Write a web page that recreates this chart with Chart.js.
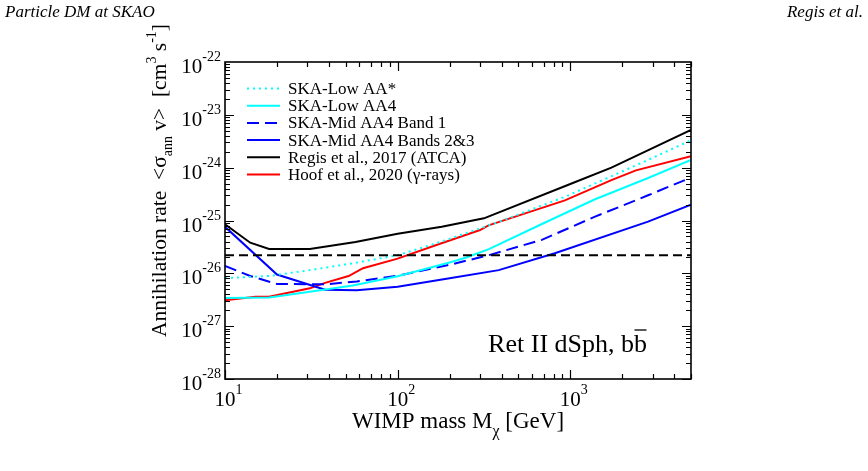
<!DOCTYPE html>
<html><head><meta charset="utf-8">
<script src="https://cdn.jsdelivr.net/npm/chart.js@4.4.0/dist/chart.umd.min.js"></script>
<style>html,body{margin:0;padding:0;background:#fff;overflow:hidden}#wrap{width:868px;height:471px}</style>
</head><body><div id="wrap"><canvas id="c" width="868" height="471"></canvas></div>
<script>
const SERIF = '"Liberation Serif", "DejaVu Serif", serif';

// ---- data (WIMP mass in GeV, <sigma v> in cm^3 s^-1) ----
const massLowAAstar = [10, 18, 31, 55, 100, 145, 200, 367, 930, 2820, 5000];
const sigmaLowAAstar = [8.1e-27, 8.9e-27, 1.15e-26, 1.55e-26, 2.2e-26, 3.2e-26, 4.5e-26, 8.9e-26, 2.8e-25, 1.4e-24, 3.3e-24];

const massLowAA4 = [10, 18, 31, 55, 100, 200, 250, 340, 680, 1380, 2800, 5000];
const sigmaLowAA4 = [3.4e-27, 3.5e-27, 4.5e-27, 5.9e-27, 8.8e-27, 1.6e-26, 2.0e-26, 2.9e-26, 8.5e-26, 2.5e-25, 6.3e-25, 1.4e-24];

const massMidB1 = [10, 14, 20, 38, 58, 100, 200, 336, 684, 1380, 2820, 5000];
const sigmaMidB1 = [1.38e-26, 8.9e-27, 6.3e-27, 6.2e-27, 7.0e-27, 9.0e-27, 1.45e-26, 2.2e-26, 4.3e-26, 1.17e-25, 3.0e-25, 6.5e-25];

const massMidB23 = [10, 20, 38, 58, 100, 200, 385, 813, 2820, 5000];
const sigmaMidB23 = [7.6e-26, 9.5e-27, 4.9e-27, 4.8e-27, 5.6e-27, 8.1e-27, 1.15e-26, 2.4e-26, 9.5e-26, 2.0e-25];

const massRegis = [10, 14, 18, 31, 57, 100, 180, 316, 1000, 1730, 5000];
const sigmaRegis = [8.5e-26, 3.8e-26, 2.9e-26, 2.9e-26, 3.9e-26, 5.6e-26, 7.6e-26, 1.1e-25, 4.9e-25, 1.0e-24, 5.2e-24];

const massHoof = [10, 15, 18, 31, 38, 52, 63, 100, 166, 300, 336, 930, 1730, 2400, 5000];
const sigmaHoof = [3.1e-27, 3.6e-27, 3.6e-27, 5.2e-27, 6.6e-27, 8.9e-27, 1.25e-26, 1.9e-26, 3.4e-26, 6.6e-26, 8.1e-26, 2.4e-25, 5.8e-25, 8.9e-25, 1.65e-24];

const massRelic = [10, 5000];
const sigmaRelic = [2.2e-26, 2.2e-26];

const xTickExps = [1, 2, 3];
const yTickExps = [-22, -23, -24, -25, -26, -27, -28];
const legendLabels = ['SKA-Low AA*', 'SKA-Low AA4', 'SKA-Mid AA4 Band 1', 'SKA-Mid AA4 Bands 2&3', 'Regis et al., 2017 (ATCA)', 'Hoof et al., 2020 (\u03b3-rays)'];

function zip(xs, ys) { return xs.map((x, i) => ({x: x, y: ys[i]})); }

const styles = [
  {color: '#00ffff', dash: [2, 4]},
  {color: '#00ffff', dash: []},
  {color: '#0000ff', dash: [12, 6]},
  {color: '#0000ff', dash: []},
  {color: '#000000', dash: []},
  {color: '#ff0000', dash: []}
];
const seriesData = [
  zip(massLowAAstar, sigmaLowAAstar),
  zip(massLowAA4, sigmaLowAA4),
  zip(massMidB1, sigmaMidB1),
  zip(massMidB23, sigmaMidB23),
  zip(massRegis, sigmaRegis),
  zip(massHoof, sigmaHoof)
];

const datasets = seriesData.map((d, i) => ({
  label: legendLabels[i], data: d, borderColor: styles[i].color, borderDash: styles[i].dash,
  borderWidth: 2, pointRadius: 0, fill: false, tension: 0, borderCapStyle: 'butt'
}));
datasets.unshift({label: 'relic', data: zip(massRelic, sigmaRelic), borderColor: '#000', borderDash: [9, 5],
  borderWidth: 2, pointRadius: 0, fill: false, tension: 0});

function rich(ctx, x, y, segs, align) {
  let w = 0;
  segs.forEach(s => { ctx.font = (s.style || '') + ' ' + s.size + 'px ' + SERIF; s.w = ctx.measureText(s.t).width; w += s.w; });
  let cx = align === 'right' ? x - w : (align === 'center' ? x - w / 2 : x);
  ctx.textAlign = 'left';
  segs.forEach(s => { ctx.font = (s.style || '') + ' ' + s.size + 'px ' + SERIF; ctx.fillText(s.t, cx, y + (s.dy || 0)); cx += s.w; });
  return w;
}

const decor = {
  id: 'decor',
  afterDraw(chart) {
    const ctx = chart.ctx, a = chart.chartArea, xs = chart.scales.x, ys = chart.scales.y;
    ctx.save();
    ctx.fillStyle = '#000'; ctx.strokeStyle = '#000';
    ctx.textBaseline = 'alphabetic';
    // frame
    ctx.lineWidth = 1.6;
    ctx.strokeRect(a.left, a.top, a.right - a.left, a.bottom - a.top);
    ctx.lineWidth = 1.2;
    // x ticks
    for (let d = 1; d <= 3; d++) {
      for (let k = 1; k <= 9; k++) {
        const v = k * Math.pow(10, d);
        if (v > 5000) break;
        const px = Math.round(xs.getPixelForValue(v)) + 0.5;
        const L = k === 1 ? 9 : 5;
        ctx.beginPath();
        ctx.moveTo(px, a.bottom); ctx.lineTo(px, a.bottom - L);
        ctx.moveTo(px, a.top); ctx.lineTo(px, a.top + L);
        ctx.stroke();
      }
    }
    // y ticks
    for (let e = -28; e <= -23; e++) {
      for (let k = 1; k <= 9; k++) {
        const v = k * Math.pow(10, e);
        const py = Math.round(ys.getPixelForValue(v)) + 0.5;
        const L = k === 1 ? 9 : 5;
        ctx.beginPath();
        ctx.moveTo(a.left, py); ctx.lineTo(a.left + L, py);
        ctx.moveTo(a.right, py); ctx.lineTo(a.right - L, py);
        ctx.stroke();
      }
    }
    // y tick labels
    yTickExps.forEach(e => {
      const py = ys.getPixelForValue(Math.pow(10, e));
      rich(ctx, a.left - 4, py + 11, [{t: '10', size: 21}, {t: String(e), size: 14, dy: -12}], 'right');
    });
    // x tick labels
    xTickExps.forEach(e => {
      const px = xs.getPixelForValue(Math.pow(10, e));
      ctx.font = '21px ' + SERIF;
      const w10 = ctx.measureText('10').width;
      rich(ctx, px - w10 / 2, a.bottom + 27, [{t: '10', size: 21}, {t: String(e), size: 14, dy: -12}], 'left');
    });
    // x title
    rich(ctx, (a.left + a.right) / 2, a.bottom + 49, [
      {t: 'WIMP mass M', size: 23}, {t: '\u03c7', size: 16, dy: 8}, {t: ' [GeV]', size: 23}], 'center');
    // y title
    ctx.save();
    ctx.translate(166, 337);
    ctx.rotate(-Math.PI / 2);
    rich(ctx, 0, 0, [
      {t: 'Annihilation rate  <\u03c3', size: 21.5}, {t: 'ann', size: 14, dy: 6},
      {t: ' v>  [cm', size: 21.5}, {t: '3', size: 14, dy: -10}, {t: ' s', size: 21.5},
      {t: '-1', size: 14, dy: -10}, {t: ']', size: 21.5}], 'left');
    ctx.restore();
    // legend
    chart.data.datasets.slice(1).forEach((ds, i) => {
      const cy = 88.5 + i * 17.2;
      ctx.save();
      ctx.strokeStyle = ds.borderColor; ctx.lineWidth = 2; ctx.setLineDash(ds.borderDash || []);
      ctx.beginPath(); ctx.moveTo(247, cy); ctx.lineTo(280, cy); ctx.stroke();
      ctx.restore();
      ctx.font = '17px ' + SERIF; ctx.textAlign = 'left';
      ctx.fillText(ds.label, 288, cy + 5.5);
    });
    // annotation
    ctx.font = '26px ' + SERIF; ctx.textAlign = 'right';
    const ax = a.right - 44, ay = a.bottom - 27;
    ctx.fillText('Ret II dSph, bb', ax, ay);
    const wb = ctx.measureText('b').width;
    ctx.lineWidth = 1.3;
    ctx.beginPath(); ctx.moveTo(ax - wb + 0.5, ay - 22); ctx.lineTo(ax - 0.5, ay - 22); ctx.stroke();
    // header
    ctx.font = 'italic 17px ' + SERIF;
    ctx.textAlign = 'left'; ctx.fillText('Particle DM at SKAO', 5, 17);
    ctx.textAlign = 'right'; ctx.fillText('Regis et al.', 863, 17);
    ctx.restore();
  }
};

new Chart(document.getElementById('c'), {
  type: 'line',
  data: {datasets: datasets},
  options: {
    responsive: false, animation: false, devicePixelRatio: 1, parsing: true,
    layout: {padding: {left: 225, top: 62, right: 177, bottom: 92}},
    scales: {
      x: {type: 'logarithmic', min: 10, max: 5000, display: false},
      y: {type: 'logarithmic', min: 1e-28, max: 1e-22, display: false}
    },
    plugins: {legend: {display: false}, tooltip: {enabled: false}}
  },
  plugins: [decor]
});
</script></body></html>
